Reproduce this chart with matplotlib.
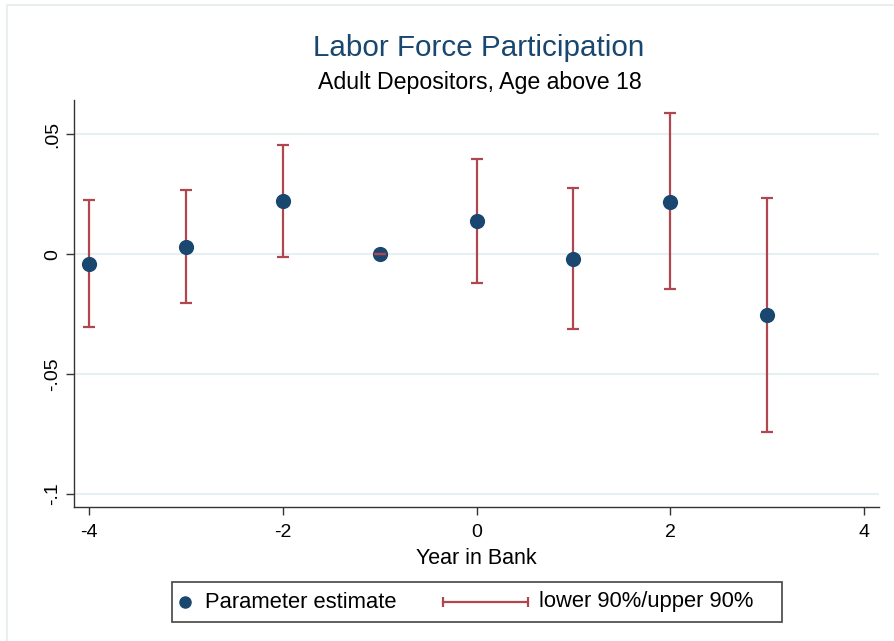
import matplotlib
matplotlib.use("Agg")
import matplotlib.pyplot as plt
from matplotlib.lines import Line2D
from matplotlib.patches import Rectangle
import numpy as np

plt.rcParams['font.family'] = ['Liberation Sans', 'DejaVu Sans']

# event-time estimates
year = [-4, -3, -2, -1, 0, 1, 2, 3]
estimate = [-0.0040, 0.0029, 0.0221, 0.0, 0.0137, -0.0021, 0.0218, -0.0256]
lower90 = [-0.0305, -0.0203, -0.0011, 0.0, -0.0120, -0.0313, -0.0147, -0.0742]
upper90 = [0.0225, 0.0267, 0.0454, 0.0, 0.0396, 0.0274, 0.0586, 0.0232]

yticks = [-0.1, -0.05, 0, 0.05]
ytick_labels = ["-.1", "-.05", "0", ".05"]
xticks = [-4, -2, 0, 2, 4]

navy = "#1a476f"
maroon = "#b0464f"
grid_col = "#e6f0f2"

W, H = 894, 641
fig = plt.figure(figsize=(W / 100, H / 100), dpi=100)


def fx(px):
    return px / W


def fy(py):
    return 1 - py / H


# faint outer frame of the graph region
fig.patches.append(Rectangle((fx(7), fy(700)), fx(950), fy(5) - fy(700),
                             transform=fig.transFigure, fill=False,
                             edgecolor="#e9eff0", linewidth=1.5))

ax = fig.add_axes([fx(74), fy(507), fx(879) - fx(74), fy(100) - fy(507)])

est = np.array(estimate)
err = np.vstack([est - np.array(lower90), np.array(upper90) - est])

ax.scatter(year, estimate, s=120, color=navy, zorder=3, linewidths=0)
eb = ax.errorbar(year, estimate, yerr=err, fmt="none", ecolor=maroon,
                 elinewidth=1.6, capsize=4.5, capthick=1.6, zorder=2)
for c in eb[1]:
    c.set_zorder(4)

ax.set_xlim(-4.15, 4.15)
ax.set_ylim(-0.1054, 0.0642)
ax.set_xticks(xticks)
ax.set_xticklabels([str(t) for t in xticks])
ax.set_yticks(yticks)
ax.set_yticklabels(ytick_labels, rotation=90, va="center")
ax.tick_params(axis="both", labelsize=14, length=6, width=1, color="#333333")
ax.tick_params(axis="x", pad=6)
ax.yaxis.grid(True, color=grid_col, linewidth=1.5)
ax.set_axisbelow(True)

for s in ["top", "right"]:
    ax.spines[s].set_visible(False)
for s in ["left", "bottom"]:
    ax.spines[s].set_color("#333333")
    ax.spines[s].set_linewidth(1)

ax.set_xlabel("Year in Bank", fontsize=15.5, labelpad=5)

fig.text(fx(479), fy(48), "Labor Force Participation", ha="center", va="center",
         fontsize=21.3, color=navy)
fig.text(fx(480), fy(82), "Adult Depositors, Age above 18", ha="center",
         va="center", fontsize=16.7, color="black")

# legend, drawn by hand the way Stata lays it out
fig.patches.append(Rectangle((fx(172), fy(622)), fx(782) - fx(172),
                             fy(582) - fy(622), transform=fig.transFigure,
                             fill=False, edgecolor="#444444", linewidth=1.2))
fig.lines.append(Line2D([fx(185)], [fy(602)], transform=fig.transFigure,
                        marker="o", linestyle="None", color=navy, markersize=8))
fig.lines.append(Line2D([fx(443), fx(528)], [fy(602), fy(602)],
                        transform=fig.transFigure, color=maroon, linewidth=1.6,
                        marker="|", markersize=7, markeredgewidth=1.6))
fig.text(fx(205), fy(602), "Parameter estimate", ha="left", va="center",
         fontsize=15.8)
fig.text(fx(539), fy(602), "lower 90%/upper 90%", ha="left", va="center",
         fontsize=15.8)

fig.savefig("out.png", dpi=100)
